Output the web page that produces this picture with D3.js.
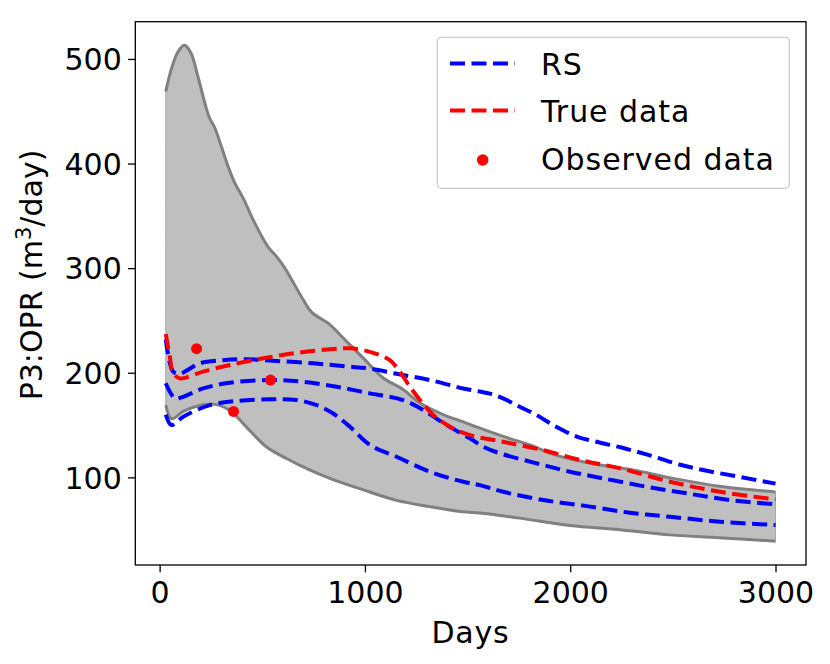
<!DOCTYPE html>
<html>
<head>
<meta charset="utf-8">
<script src="https://cdn.jsdelivr.net/npm/d3@7"></script>
<style>
body { margin: 0; background: #fff; }
svg { display: block; font-family: "DejaVu Sans", sans-serif; }
</style>
</head>
<body>
<svg id="chart" width="830" height="664"></svg>
<script>
// ---------------- data ----------------
const xTicks = [0, 1000, 2000, 3000];
const yTicks = [100, 200, 300, 400, 500];

const upperDays = [30, 58, 90, 120, 152, 188, 240, 269, 334, 367, 407, 456, 529, 570, 610, 699, 740, 829, 910, 992, 1089, 1186, 1268, 1381, 1479, 1560, 1706, 1804, 1933, 2112, 2306, 2501, 2745, 3000];
const upperVals = [469, 491, 507, 513, 506, 482, 445, 434, 397, 381, 367, 346, 320, 311, 300, 270, 258, 246, 230, 214, 195, 184, 171, 160, 153, 147, 137, 131, 121, 113, 107, 99, 91, 86];

const lowerDays = [30, 58, 115, 180, 261, 342, 423, 521, 618, 699, 829, 992, 1154, 1316, 1479, 1560, 1754, 1998, 2242, 2486, 2745, 3000];
const lowerVals = [169, 156, 163, 168, 170, 164, 148, 129, 118, 110, 99, 88, 78, 72, 67, 66, 61, 54, 50, 45, 42, 39];

const rsTopDays = [30, 66, 99, 139, 196, 310, 423, 553, 748, 910, 1024, 1154, 1316, 1479, 1560, 1609, 1673, 1754, 1836, 1917, 2031, 2128, 2258, 2388, 2518, 2647, 2810, 3000];
const rsTopVals = [232, 201, 199, 203, 209, 212, 213, 211.5, 209, 206, 204, 199, 193, 185, 182, 180, 175.5, 167.5, 159.6, 150, 139, 134, 128, 121, 113, 107, 101, 94];

const rsMidDays = [30, 75, 115, 212, 342, 537, 699, 862, 1024, 1186, 1284, 1398, 1511, 1576, 1657, 1836, 1998, 2160, 2372, 2567, 2777, 3000];
const rsMidVals = [190, 175.5, 177, 185, 190.4, 193, 191.4, 186.6, 180.3, 173.9, 164.3, 150, 137.3, 129.3, 123, 113.4, 105.4, 99, 91, 84.7, 78.3, 74.2];

const rsLowDays = [30, 58, 115, 245, 375, 537, 667, 765, 845, 927, 1024, 1154, 1316, 1479, 1560, 1673, 1868, 2080, 2290, 2486, 2729, 3000];
const rsLowVals = [160, 150, 158, 169, 173, 174.6, 174, 169, 161, 148.4, 131, 119.7, 105.4, 95.8, 92.6, 86.2, 78.3, 72.5, 66.2, 62.3, 57.6, 54.4];

const trueDays = [30, 50, 66, 99, 131, 212, 342, 505, 667, 829, 927, 1024, 1121, 1170, 1219, 1268, 1333, 1414, 1511, 1673, 1868, 2047, 2242, 2486, 2729, 3000];
const trueVals = [237, 215, 199.4, 194.6, 195.6, 201, 207.4, 213.8, 219, 222.4, 223.3, 220, 212, 201, 186.6, 174, 159.6, 148.4, 140.4, 134, 126, 116.6, 108.6, 95.8, 86.2, 78.9];

const obsDays = [180, 360, 540];
const obsVals = [223, 163, 193];

const legendLabels = ["RS", "True data", "Observed data"];

// ---------------- layout ----------------
const svg = d3.select("#chart");
const L = 135.3, R = 806, T = 21.7, B = 565;
const x = d3.scaleLinear().domain([-118.5, 3148.5]).range([L, R]);
const y = d3.scaleLinear().domain([16.2, 535.6]).range([B, T]);

const zip = (ds, vs) => ds.map((d, i) => [d, vs[i]]);
const line = d3.line().x(d => x(d[0])).y(d => y(d[1])).curve(d3.curveCatmullRom.alpha(0.5));

const upper = zip(upperDays, upperVals);
const lower = zip(lowerDays, lowerVals);

// band fill
const fillPath = line(upper) + "L" + line(lower.slice().reverse()).slice(1) + "Z";
svg.append("path").attr("d", fillPath).attr("fill", "#bfbfbf").attr("stroke", "#a6a6a6").attr("stroke-width", 1);
svg.append("path").attr("d", line(upper)).attr("fill", "none").attr("stroke", "#808080").attr("stroke-width", 3);
svg.append("path").attr("d", line(lower)).attr("fill", "none").attr("stroke", "#808080").attr("stroke-width", 3);

const dash = "15,6.5";
[[rsTopDays, rsTopVals], [rsMidDays, rsMidVals], [rsLowDays, rsLowVals]].forEach(([ds, vs]) => {
  svg.append("path").attr("d", line(zip(ds, vs))).attr("fill", "none")
    .attr("stroke", "#0000ff").attr("stroke-width", 4).attr("stroke-dasharray", dash);
});
svg.append("path").attr("d", line(zip(trueDays, trueVals))).attr("fill", "none")
  .attr("stroke", "#ff0000").attr("stroke-width", 4).attr("stroke-dasharray", dash);

svg.selectAll("circle.obs").data(zip(obsDays, obsVals)).enter().append("circle")
  .attr("class", "obs").attr("cx", d => x(d[0])).attr("cy", d => y(d[1])).attr("r", 5.5).attr("fill", "#ff0000");

// axes
const xAxis = d3.axisBottom(x).tickValues(xTicks).tickSize(7.3).tickPadding(6).tickFormat(d3.format("d"));
const yAxis = d3.axisLeft(y).tickValues(yTicks).tickSize(7.3).tickPadding(6).tickFormat(d3.format("d"));
const gx = svg.append("g").attr("transform", `translate(0,${B})`).call(xAxis);
const gy = svg.append("g").attr("transform", `translate(${L},0)`).call(yAxis);
[gx, gy].forEach(g => {
  g.select(".domain").remove();
  g.selectAll(".tick line").attr("stroke", "#000").attr("stroke-width", 1.3);
  g.selectAll(".tick text").attr("font-size", 30).attr("font-family", "DejaVu Sans").attr("fill", "#000");
});
gx.selectAll(".tick text").attr("dy", null).attr("y", 38).attr("dominant-baseline", "auto");
gy.selectAll(".tick text").attr("dy", "0.36em").attr("x", -13.5);

// frame
svg.append("rect").attr("x", L).attr("y", T).attr("width", R - L).attr("height", B - T)
  .attr("fill", "none").attr("stroke", "#000").attr("stroke-width", 1.3);

// axis labels
svg.append("text").attr("x", 470.5).attr("y", 642.7).attr("text-anchor", "middle")
  .attr("font-size", 30).attr("letter-spacing", 0.8).text("Days");
const yl = svg.append("text").attr("transform", "translate(41.5,275) rotate(-90)")
  .attr("text-anchor", "middle").attr("font-size", 30);
yl.append("tspan").text("P3:OPR (m");
yl.append("tspan").attr("font-size", 21).attr("dy", -11).text("3");
yl.append("tspan").attr("dy", 11).text("/day)");

// legend
const lg = svg.append("g");
lg.append("rect").attr("x", 437.3).attr("y", 37.3).attr("width", 352).attr("height", 151).attr("rx", 4)
  .attr("fill", "#fff").attr("fill-opacity", 0.8).attr("stroke", "#cccccc").attr("stroke-width", 1.3);
const rowY = [63.5, 110.5, 158.5];
lg.append("line").attr("x1", 450).attr("x2", 515).attr("y1", rowY[0]).attr("y2", rowY[0])
  .attr("stroke", "#0000ff").attr("stroke-width", 4).attr("stroke-dasharray", dash);
lg.append("line").attr("x1", 450).attr("x2", 515).attr("y1", rowY[1]).attr("y2", rowY[1])
  .attr("stroke", "#ff0000").attr("stroke-width", 4).attr("stroke-dasharray", dash);
lg.append("circle").attr("cx", 482.7).attr("cy", rowY[2] + 1.5).attr("r", 5.8).attr("fill", "#ff0000");
legendLabels.forEach((t, i) => {
  lg.append("text").attr("x", 541).attr("y", rowY[i] + 11.2).attr("font-size", 30)
    .attr("letter-spacing", 0.95).text(t);
});
</script>
</body>
</html>
